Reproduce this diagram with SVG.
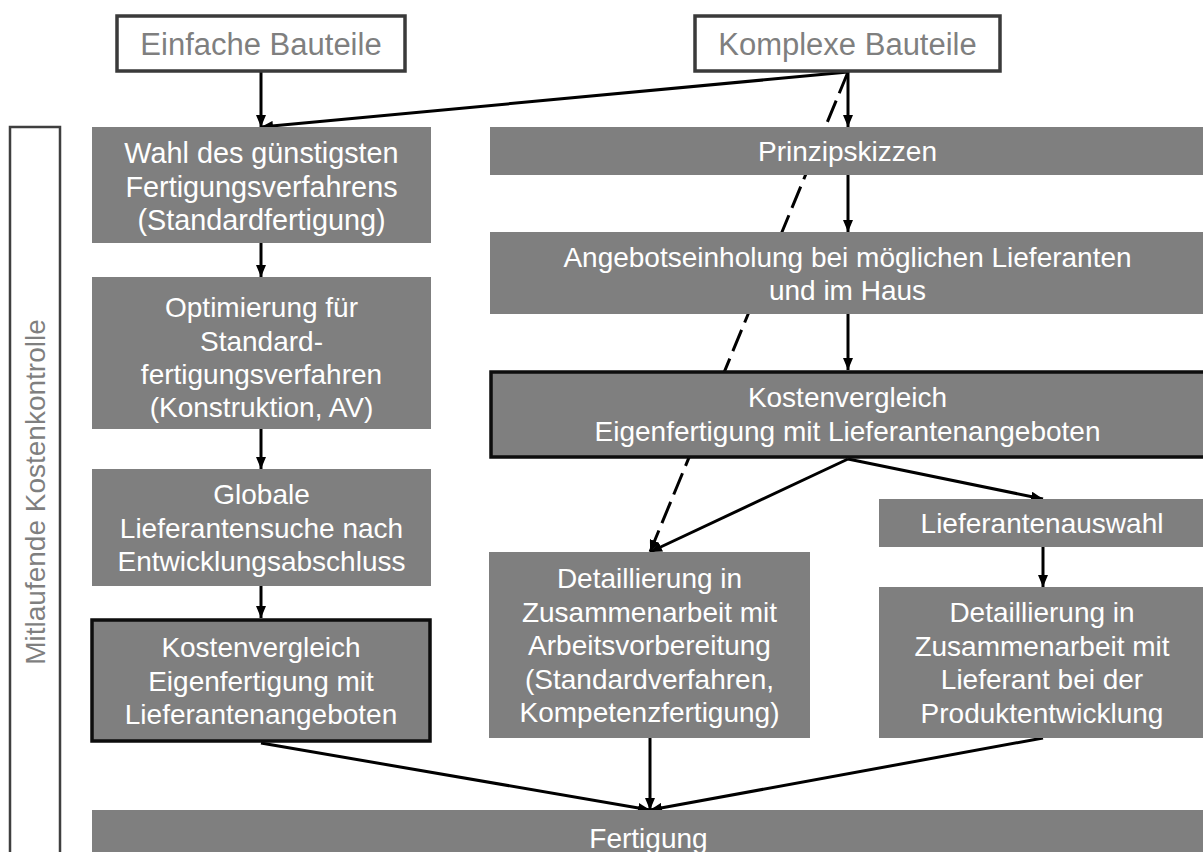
<svg xmlns="http://www.w3.org/2000/svg" width="1203" height="852" viewBox="0 0 1203 852">
  <style>
    .box { fill: #7f7f7f; }
    .thick { fill: #7f7f7f; stroke: #0d0d0d; stroke-width: 3.5; }
    .top { fill: #ffffff; stroke: #3a3a3a; stroke-width: 3.5; }
    .t { font-family: "Liberation Sans", Arial, sans-serif; font-size: 28px; fill: #ffffff; text-anchor: middle; }
    .tb { font-size: 28.8px; }
    .tg { font-family: "Liberation Sans", Arial, sans-serif; font-size: 31px; fill: #7f7f7f; text-anchor: middle; }
    .lbl { font-family: "Liberation Sans", Arial, sans-serif; font-size: 28px; fill: #7f7f7f; text-anchor: middle; }
    .c { stroke: #000000; stroke-width: 3; fill: none; }
    .d { stroke: #000000; stroke-width: 3; fill: none; stroke-dasharray: 23 8; }
  </style>
  <defs>
    <marker id="ah" viewBox="0 0 12 10" markerWidth="12" markerHeight="10" refX="12" refY="5" orient="auto" markerUnits="userSpaceOnUse">
      <path d="M0,0 L12,5 L0,10 z" fill="#000000"/>
    </marker>
  </defs>

  <g id="bracket">
    <rect x="10" y="127" width="50" height="760" fill="none" stroke="#3f3f3f" stroke-width="2.5"/>
    <text class="lbl" transform="translate(45,492) rotate(-90)" x="0" y="0">Mitlaufende Kostenkontrolle</text>
  </g>

  <g id="connectors">
    <line class="d" x1="848" y1="72" x2="650" y2="552" marker-end="url(#ah)"/>
    <line class="c" x1="261" y1="72" x2="261" y2="127" marker-end="url(#ah)"/>
    <line class="c" x1="848" y1="72" x2="261" y2="127" marker-end="url(#ah)"/>
    <line class="c" x1="848" y1="72" x2="848" y2="127" marker-end="url(#ah)"/>
    <line class="c" x1="848" y1="175" x2="848" y2="232" marker-end="url(#ah)"/>
    <line class="c" x1="848" y1="314" x2="848" y2="370" marker-end="url(#ah)"/>
    <line class="c" x1="848" y1="459" x2="650" y2="552" marker-end="url(#ah)"/>
    <line class="c" x1="848" y1="459" x2="1043" y2="499" marker-end="url(#ah)"/>
    <line class="c" x1="1043" y1="547" x2="1043" y2="587" marker-end="url(#ah)"/>
    <line class="c" x1="261" y1="243" x2="261" y2="277" marker-end="url(#ah)"/>
    <line class="c" x1="261" y1="429" x2="261" y2="469" marker-end="url(#ah)"/>
    <line class="c" x1="261" y1="586" x2="261" y2="618" marker-end="url(#ah)"/>
    <line class="c" x1="261" y1="743" x2="650" y2="810" marker-end="url(#ah)"/>
    <line class="c" x1="650" y1="738" x2="650" y2="810" marker-end="url(#ah)"/>
    <line class="c" x1="1043" y1="738" x2="650" y2="810" marker-end="url(#ah)"/>
  </g>

  <g id="einfache">
    <rect class="top" x="117" y="16" width="288" height="55"/>
    <text class="tg" x="261" y="55">Einfache Bauteile</text>
  </g>
  <g id="komplexe">
    <rect class="top" x="695" y="16" width="305" height="55"/>
    <text class="tg" x="847.5" y="55">Komplexe Bauteile</text>
  </g>

  <g id="wahl">
    <rect class="box" x="92" y="127" width="339" height="116"/>
    <text class="t tb" x="261.5" y="163">Wahl des günstigsten</text>
    <text class="t tb" x="261.5" y="196.5">Fertigungsverfahrens</text>
    <text class="t tb" x="261.5" y="229.5">(Standardfertigung)</text>
  </g>
  <g id="optimierung">
    <rect class="box" x="92" y="277" width="339" height="152"/>
    <text class="t" x="261.5" y="317">Optimierung für</text>
    <text class="t" x="261.5" y="350.5">Standard-</text>
    <text class="t" x="261.5" y="384">fertigungsverfahren</text>
    <text class="t" x="261.5" y="417">(Konstruktion, AV)</text>
  </g>
  <g id="globale">
    <rect class="box" x="92" y="469" width="339" height="117"/>
    <text class="t" x="261.5" y="504">Globale</text>
    <text class="t" x="261.5" y="537.5">Lieferantensuche nach</text>
    <text class="t" x="261.5" y="571">Entwicklungsabschluss</text>
  </g>
  <g id="kosten-links">
    <rect class="thick" x="92" y="620" width="338" height="121"/>
    <text class="t" x="261" y="657">Kostenvergleich</text>
    <text class="t" x="261" y="690.5">Eigenfertigung mit</text>
    <text class="t" x="261" y="724">Lieferantenangeboten</text>
  </g>

  <g id="prinzipskizzen">
    <rect class="box" x="490" y="127" width="715" height="48"/>
    <text class="t" x="847.5" y="161">Prinzipskizzen</text>
  </g>
  <g id="angebot">
    <rect class="box" x="490" y="232" width="715" height="82"/>
    <text class="t" x="847.5" y="266.5">Angebotseinholung bei möglichen Lieferanten</text>
    <text class="t" x="847.5" y="300">und im Haus</text>
  </g>
  <g id="kosten-rechts">
    <rect class="thick" x="491" y="372" width="716" height="85"/>
    <text class="t" x="847.5" y="407">Kostenvergleich</text>
    <text class="t" x="847.5" y="441">Eigenfertigung mit Lieferantenangeboten</text>
  </g>
  <g id="lieferantenauswahl">
    <rect class="box" x="879" y="499" width="326" height="48"/>
    <text class="t" x="1042" y="533">Lieferantenauswahl</text>
  </g>
  <g id="detail-av">
    <rect class="box" x="489" y="552" width="321" height="186"/>
    <text class="t" x="649.5" y="588">Detaillierung in</text>
    <text class="t" x="649.5" y="621.6">Zusammenarbeit mit</text>
    <text class="t" x="649.5" y="655.2">Arbeitsvorbereitung</text>
    <text class="t" x="649.5" y="688.8">(Standardverfahren,</text>
    <text class="t" x="649.5" y="722.4">Kompetenzfertigung)</text>
  </g>
  <g id="detail-lieferant">
    <rect class="box" x="879" y="587" width="326" height="151"/>
    <text class="t" x="1042" y="622">Detaillierung in</text>
    <text class="t" x="1042" y="655.6">Zusammenarbeit mit</text>
    <text class="t" x="1042" y="689.2">Lieferant bei der</text>
    <text class="t" x="1042" y="722.8">Produktentwicklung</text>
  </g>
  <g id="fertigung">
    <rect class="box" x="92" y="810" width="1113" height="50"/>
    <text class="t" x="648.5" y="848">Fertigung</text>
  </g>
</svg>
